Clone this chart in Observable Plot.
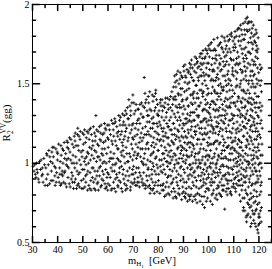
<!DOCTYPE html>
<html><head><meta charset="utf-8">
<script src="https://cdn.jsdelivr.net/npm/d3@7"></script>
<script src="https://cdn.jsdelivr.net/npm/@observablehq/plot@0.6"></script>
<style>body{margin:0;background:#fff}#chart svg{display:block}</style>
</head><body><div id="chart"></div>
<script>
const xTicks = [30,40,50,60,70,80,90,100,110,120];
const xMinor = [35,45,55,65,75,85,95,105,115,125];
const yTicks = [0.5,1,1.5,2];
const yMinor = [0.6,0.7,0.8,0.9,1.1,1.2,1.3,1.4,1.6,1.7,1.8,1.9];

// scanned points [m_H1 (GeV), R], first pass
const pts30 = [[30.2,.98],[30.6,.95],[31.1,.93],[31.6,1.00],[32.3,.90],[32.8,1.01],[33.2,.96],[33.7,.92],[34.2,.88],[34.5,1.03],[35.0,.86],[35.3,.97],[35.8,1.05],[36.1,.93],[36.5,1.08],[36.8,.87],[37.2,1.01],[37.5,.95],[37.9,1.10],[38.1,.89],[38.3,1.04],[38.7,.98],[39.0,.86],[39.3,1.09],[39.6,.94],[39.9,1.02]];
const pts40 = [[40.2,.91],[40.4,1.12],[40.8,.97],[41.1,.86],[41.4,1.05],[41.7,.93],[41.9,1.09],[42.1,1.00],[42.4,.88],[42.6,1.13],[42.9,.95],[43.2,1.06],[43.5,.85],[43.7,1.14],[43.9,.98],[44.1,.91],[44.3,1.09],[44.7,1.16],[45.0,.85],[45.2,1.02],[45.6,.94],[45.8,1.12],[45.9,.88],[46.1,1.05],[46.3,.84],[46.6,1.17],[46.8,.97],[47.1,.90],[47.3,1.11],[47.6,1.00],[47.8,.86],[47.9,1.18],[48.0,1.22],[48.2,.93],[48.4,1.08],[48.7,.85],[48.9,1.15],[49.2,.99],[49.4,.89],[49.7,1.04],[49.9,1.19]];
const pts50 = [[50.1,.84],[50.2,1.12],[50.5,.96],[50.7,1.21],[50.9,1.03],[51.2,.88],[51.4,1.16],[51.6,.93],[51.8,1.07],[51.9,.83],[52.1,1.19],[52.3,1.00],[52.4,.86],[52.7,1.10],[52.9,.94],[53.1,1.22],[53.3,.83],[53.6,1.05],[53.8,.91],[53.9,1.14],[54.1,.97],[54.2,1.23],[54.5,.84],[54.7,1.08],[54.9,.90],[55.1,1.17],[55.2,1.30],[55.4,1.01],[55.7,.87],[55.8,1.12],[55.9,.95],[56.1,1.20],[56.2,.83],[56.4,1.04],[56.7,.92],[56.8,1.15],[57.0,.98],[57.3,1.24],[57.4,.86],[57.7,1.09],[57.8,.95],[57.9,1.18],[58.1,.89],[58.2,1.13],[58.5,1.01],[58.6,1.25],[58.9,.84],[59.1,.96],[59.2,1.21],[59.5,1.06],[59.6,.91],[59.8,1.16],[59.9,.83]];
const pts60 = [[60.1,1.10],[60.3,.93],[60.4,1.24],[60.7,.86],[60.8,1.03],[61.0,1.18],[61.2,.97],[61.4,1.27],[61.6,.84],[61.8,1.12],[61.9,.99],[62.1,1.21],[62.2,.88],[62.4,1.06],[62.6,.95],[62.7,1.28],[62.9,1.14],[63.1,.82],[63.2,1.00],[63.5,1.23],[63.6,.91],[63.8,1.09],[63.9,1.17],[64.0,.85],[64.2,1.02],[64.3,1.30],[64.5,.94],[64.7,1.15],[64.8,1.24],[65.0,.88],[65.2,1.07],[65.4,.98],[65.5,1.20],[65.7,.82],[65.8,1.31],[65.9,1.11],[66.1,.96],[66.2,1.26],[66.4,1.04],[66.6,.87],[66.7,1.17],[66.9,1.33],[67.1,.92],[67.2,1.10],[67.4,1.22],[67.6,.84],[67.7,1.35],[67.8,1.01],[67.9,1.14],[68.0,.89],[68.2,1.28],[68.3,1.40],[68.5,1.06],[68.6,.97],[68.8,1.19],[69.0,.85],[69.1,1.33],[69.3,1.12],[69.5,.93],[69.6,1.24],[69.8,1.02],[69.9,1.43],[69.9,.87]];
const pts70 = [[70.1,1.15],[70.2,.98],[70.4,1.31],[70.5,.88],[70.7,1.07],[70.8,1.22],[71.0,.94],[71.2,1.37],[71.3,1.03],[71.5,.86],[71.6,1.18],[71.8,1.27],[71.9,.91],[71.9,1.10],[72.1,1.34],[72.2,.97],[72.4,1.13],[72.5,.85],[72.7,1.25],[72.9,1.04],[73.0,.92],[73.2,1.19],[73.3,1.38],[73.5,.88],[73.7,1.09],[73.8,1.29],[73.9,1.00],[73.9,.86],[74.0,1.16],[74.2,.94],[74.4,1.54],[74.5,1.35],[74.6,1.06],[74.8,.84],[74.9,1.23],[75.1,.99],[75.2,1.40],[75.4,1.12],[75.6,.89],[75.7,1.30],[75.8,1.02],[75.9,1.20],[75.9,.85],[76.1,1.09],[76.2,1.38],[76.4,.92],[76.5,1.26],[76.6,1.45],[76.8,1.01],[76.9,.84],[77.1,1.17],[77.2,1.33],[77.4,.96],[77.5,1.06],[77.7,1.22],[77.8,.88],[77.9,1.39],[77.9,1.13],[77.6,.83],[78.0,1.29],[78.1,.98],[78.3,1.42],[78.4,1.10],[78.6,.86],[78.7,1.20],[78.9,1.35],[79.0,1.46],[79.1,.93],[79.2,1.04],[79.4,1.25],[79.5,.82],[79.6,1.15],[79.7,1.37],[79.8,.97],[79.9,1.08],[79.9,1.30]];
const pts80 = [[80.1,.89],[80.2,1.18],[80.3,1.33],[80.5,1.02],[80.6,.81],[80.8,1.24],[80.9,1.40],[81.1,.95],[81.2,1.11],[81.4,1.29],[81.5,1.40],[81.6,.86],[81.7,1.06],[81.8,1.20],[81.9,.99],[81.9,1.36],[82.0,1.14],[82.1,.83],[82.3,1.27],[82.4,1.03],[82.5,.79],[82.7,1.38],[82.8,.93],[83.0,1.19],[83.1,1.08],[83.3,1.32],[83.4,.88],[83.6,1.41],[83.7,.98],[83.8,1.23],[83.9,1.12],[83.9,.81],[83.5,1.01],[84.0,1.34],[84.1,.92],[84.3,1.07],[84.4,1.40],[84.5,.80],[84.7,1.21],[84.8,1.00],[85.0,1.29],[85.1,.87],[85.3,1.14],[85.4,1.45],[85.6,.95],[85.7,1.37],[85.8,1.04],[85.9,.78],[85.9,1.25],[85.5,1.18],[84.6,1.11],[86.0,1.48],[86.1,.84],[86.2,1.12],[86.3,1.31],[86.4,.97],[86.6,1.22],[86.7,1.42],[86.8,.79],[86.9,1.05],[87.0,1.36],[87.1,.91],[87.3,1.17],[87.4,1.52],[87.5,1.00],[87.6,1.27],[87.7,.86],[87.8,1.58],[87.9,1.10],[87.9,1.44],[87.2,.78],[86.5,1.55],[88.0,.93],[88.1,1.20],[88.2,1.50],[88.3,1.03],[88.4,.80],[88.5,1.35],[88.6,1.14],[88.7,1.57],[88.8,.89],[88.9,1.27],[89.0,1.43],[89.1,.98],[89.2,1.08],[89.3,.77],[89.4,1.39],[89.5,1.22],[89.6,1.54],[89.7,.85],[89.8,1.31],[89.9,1.01],[89.9,1.16],[89.5,1.47]];
const pts90 = [[90.0,1.61],[90.1,.82],[90.2,1.24],[90.3,1.09],[90.4,1.45],[90.5,.94],[90.6,1.34],[90.7,1.55],[90.8,.78],[90.9,1.17],[91.0,1.02],[91.1,1.40],[91.2,.88],[91.3,1.28],[91.4,1.59],[91.5,1.12],[91.6,.97],[91.7,1.50],[91.8,1.21],[91.9,.80],[91.9,1.36],[91.3,1.05],[90.6,1.62],[91.6,.76],[92.0,1.19],[92.1,.90],[92.2,1.47],[92.3,1.04],[92.4,1.63],[92.5,.79],[92.6,1.30],[92.7,1.13],[92.8,1.56],[92.9,.96],[93.0,1.38],[93.1,.84],[93.2,1.65],[93.3,1.23],[93.4,1.07],[93.5,1.43],[93.6,.76],[93.7,1.32],[93.8,1.00],[93.9,1.52],[93.9,1.16],[93.4,.92],[92.7,1.60],[93.1,1.26],[92.4,.99],[94.0,1.41],[94.1,.86],[94.2,1.09],[94.3,1.58],[94.4,1.27],[94.5,.95],[94.6,1.67],[94.7,.77],[94.8,1.18],[94.9,1.49],[95.0,1.02],[95.1,1.34],[95.2,.89],[95.3,1.63],[95.4,1.12],[95.5,1.44],[95.6,.81],[95.7,1.24],[95.8,1.54],[95.9,.98],[95.9,1.36],[95.4,.75],[94.8,1.06],[95.2,1.66],[94.4,1.20],[96.0,.92],[96.1,1.30],[96.2,1.61],[96.3,1.07],[96.4,.80],[96.5,1.46],[96.6,1.19],[96.7,1.69],[96.8,.97],[96.9,1.38],[97.0,1.12],[97.1,.85],[97.2,1.55],[97.3,1.26],[97.4,1.02],[97.5,1.66],[97.6,.74],[97.7,1.42],[97.8,1.71],[97.8,1.15],[97.9,.90],[97.9,1.34],[97.5,1.50],[96.6,.76],[97.0,1.59],[96.3,1.22],[97.4,.94],[98.0,1.09],[98.1,1.63],[98.2,.79],[98.3,1.28],[98.4,.72],[98.5,1.52],[98.6,1.00],[98.7,1.40],[98.8,1.72],[98.9,.87],[99.0,1.18],[99.1,1.60],[99.2,.95],[99.3,1.33],[99.4,1.05],[99.5,1.69],[99.6,.78],[99.7,1.47],[99.8,1.24],[99.9,.91],[99.9,1.74],[99.5,1.13],[99.0,1.56],[98.6,1.22],[98.3,.93],[99.3,.84],[98.9,1.37],[99.7,1.02]];
const pts100 = [[100.0,1.44],[100.1,.83],[100.2,1.16],[100.3,1.67],[100.4,.98],[100.5,1.31],[100.6,1.75],[100.7,.76],[100.8,1.08],[100.9,1.52],[101.0,1.24],[101.1,.90],[101.2,1.62],[101.3,1.39],[101.4,1.03],[101.5,.74],[101.6,1.48],[101.7,1.19],[101.8,1.71],[101.9,.95],[101.9,1.34],[101.5,1.58],[101.0,.86],[100.5,1.12],[100.2,1.55],[101.2,1.27],[100.8,1.00],[101.7,.81],[102.0,1.21],[102.1,1.78],[102.2,.88],[102.3,1.46],[102.4,1.06],[102.5,1.63],[102.6,.78],[102.7,1.33],[102.8,1.71],[102.9,1.14],[103.0,.97],[103.1,1.54],[103.2,1.26],[103.3,.84],[103.4,1.40],[103.5,1.79],[103.6,1.02],[103.7,1.60],[103.8,.92],[103.9,1.18],[103.9,1.49],[103.4,.77],[102.8,1.37],[103.1,1.09],[102.5,.94],[103.7,1.29],[102.2,1.58],[103.0,1.68],[104.0,.85],[104.1,1.42],[104.2,1.12],[104.3,1.75],[104.4,.96],[104.5,1.30],[104.6,1.58],[104.7,.80],[104.8,1.22],[104.9,1.66],[105.0,1.03],[105.1,1.48],[105.2,.90],[105.3,1.80],[105.4,1.17],[105.5,1.37],[105.6,.99],[105.7,1.55],[105.8,1.26],[105.9,.83],[105.9,1.70],[105.4,1.08],[104.8,1.44],[105.1,.79],[104.3,1.20],[105.7,1.34],[104.5,1.62],[105.2,1.73],[106.0,1.15],[106.1,1.61],[106.2,.92],[106.3,1.39],[106.4,.71],[106.5,1.77],[106.6,1.04],[106.7,1.28],[106.8,1.52],[106.9,.82],[107.0,1.68],[107.1,1.20],[107.2,.98],[107.3,1.45],[107.4,1.80],[107.5,1.10],[107.6,.87],[107.7,1.35],[107.8,1.58],[107.9,1.02],[107.9,1.24],[107.4,.80],[106.8,1.72],[107.1,1.49],[106.3,1.08],[107.7,.94],[106.6,1.33],[107.2,1.64],[108.0,1.53],[108.1,.89],[108.2,1.27],[108.3,1.78],[108.4,1.06],[108.5,1.41],[108.6,.81],[108.7,1.66],[108.8,1.16],[108.9,.97],[109.0,1.49],[109.1,1.82],[109.2,1.31],[109.3,.85],[109.4,1.10],[109.5,1.60],[109.6,1.22],[109.7,.93],[109.8,1.73],[109.9,1.38],[109.9,1.02],[109.4,1.56],[108.8,1.70],[109.1,.80],[108.4,1.20],[109.6,1.46],[108.6,1.35],[109.3,1.13]];
const pts110 = [[110.0,1.25],[110.1,1.71],[110.2,.90],[110.3,1.44],[110.4,1.08],[110.5,1.83],[110.6,.84],[110.7,1.36],[110.8,1.58],[110.9,1.00],[111.0,1.19],[111.1,1.66],[111.2,.94],[111.3,1.49],[111.4,1.84],[111.5,1.12],[111.6,1.30],[111.7,.86],[111.8,1.62],[111.9,1.04],[111.9,1.77],[111.4,1.39],[110.8,.82],[111.1,1.53],[110.4,1.75],[111.6,1.22],[110.6,1.16],[111.3,.98],[112.0,1.41],[112.1,.95],[112.2,1.80],[112.3,1.14],[112.4,1.63],[112.5,.86],[112.6,1.29],[112.7,1.87],[112.8,1.05],[112.9,1.52],[113.0,1.21],[113.1,.90],[113.2,1.72],[113.3,1.35],[113.4,1.00],[113.5,1.58],[113.6,.78],[113.7,1.88],[113.8,1.17],[113.9,1.46],[113.9,.72],[113.5,1.26],[112.9,1.77],[113.2,.83],[112.4,1.10],[113.8,1.66],[112.6,1.50],[113.1,1.38],[112.2,.99],[113.6,1.08],[112.8,1.31],[114.0,1.53],[114.1,.88],[114.2,1.23],[114.3,1.84],[114.4,.70],[114.5,1.40],[114.6,1.06],[114.7,1.68],[114.8,.95],[114.9,1.91],[115.0,1.31],[115.1,.63],[115.2,1.15],[115.3,1.60],[115.4,1.92],[115.5,.80],[115.6,1.46],[115.7,1.01],[115.8,1.76],[115.9,1.27],[115.9,.74],[115.6,1.88],[115.2,.92],[114.8,1.55],[114.5,1.81],[115.0,1.10],[114.3,1.35],[115.7,1.63],[114.6,.83],[115.4,1.19],[114.1,1.72],[115.8,.99],[114.9,1.44],[115.3,.67],[114.7,1.28],[115.5,1.83],[116.0,1.12],[116.1,1.70],[116.2,.77],[116.3,1.44],[116.4,1.89],[116.5,.97],[116.6,1.30],[116.7,.60],[116.8,1.58],[116.9,1.05],[117.0,1.82],[117.1,.86],[117.2,1.37],[117.3,1.65],[117.4,.70],[117.5,1.20],[117.6,1.50],[117.7,.93],[117.8,1.87],[117.9,1.26],[117.9,.64],[117.6,1.75],[117.2,1.02],[116.8,.81],[116.5,1.62],[117.0,1.41],[116.3,1.17],[117.7,1.08],[116.6,1.79],[117.4,1.33],[116.1,.90],[117.8,1.55],[116.9,.73],[117.3,1.85],[116.7,1.23],[117.5,.99],[118.0,1.48],[118.1,.83],[118.2,1.77],[118.3,1.15],[118.4,.62],[118.5,1.35],[118.6,1.62],[118.7,.95],[118.8,1.84],[118.9,1.22],[119.0,.71],[119.1,1.53],[119.2,1.04],[119.3,1.70],[119.4,.58],[119.5,1.30],[119.6,.88],[119.7,1.79],[119.8,1.42],[119.9,.66],[119.9,1.12],[119.7,.56],[119.4,1.60],[119.0,1.38],[118.6,.76],[118.3,1.56],[119.2,.79],[118.9,1.07],[118.1,1.28],[119.6,1.20],[118.5,1.00],[119.3,.92],[118.7,1.67],[119.8,.99],[118.4,1.44],[119.1,1.74]];
const pts120 = [[120.0,1.52],[120.1,.75],[120.2,1.18],[120.3,.66],[120.4,1.38],[120.5,.92],[120.6,1.59],[120.7,1.05],[120.8,.82],[120.9,1.27],[121.0,1.45],[121.1,.97],[121.2,1.12],[120.6,.70],[120.3,1.00],[121.0,.88],[120.8,1.33],[120.2,.62],[121.3,1.22],[120.5,1.49]];

// second pass (points between the first ones)
const more30 = [[30.9,.99],[31.4,.91],[31.8,.96],[32.0,.94],[32.6,.88],[33.4,1.02],[33.9,.97],[34.0,.93],[34.8,.99],[35.5,.90],[35.6,1.06],[36.3,.99],[36.9,1.04],[37.4,.89],[37.7,1.07],[36.0,.86],[38.5,1.10],[38.9,.92],[39.4,.88],[39.8,1.07],[38.0,1.00],[39.2,.97]];
const more40 = [[40.0,1.06],[40.6,.88],[41.0,1.01],[41.3,1.11],[41.8,.95],[40.9,.93],[41.5,.87],[42.0,.92],[42.3,1.08],[42.8,1.03],[43.0,.87],[43.4,.99],[43.8,1.10],[42.7,.94],[43.6,1.02],[44.0,1.13],[44.4,.97],[44.6,.87],[44.9,1.07],[45.3,1.15],[45.4,.90],[45.7,1.00],[44.2,1.03],[46.0,.92],[46.4,1.10],[46.7,.88],[46.9,1.14],[47.2,1.04],[47.5,.84],[47.7,.95],[47.0,1.19],[46.5,1.00],[48.1,1.11],[48.3,.87],[48.6,1.02],[48.8,.94],[49.0,1.20],[49.3,1.07],[49.6,.84],[49.8,.96],[48.5,1.17]];
const more50 = [[50.0,1.08],[50.3,.90],[50.4,1.18],[50.8,.85],[51.0,1.13],[51.3,.99],[51.5,1.04],[51.7,1.20],[51.1,.92],[50.6,1.01],[52.0,.95],[52.2,1.06],[52.5,1.15],[52.8,.84],[53.0,1.02],[53.2,.89],[53.4,1.18],[53.7,.97],[53.5,1.09],[52.6,1.21],[54.0,1.11],[54.3,.88],[54.4,1.03],[54.6,1.19],[54.8,.95],[55.0,.83],[55.3,1.07],[55.5,1.21],[55.6,.92],[55.9,1.04],[54.9,1.14],[56.0,.88],[56.3,1.11],[56.5,.97],[56.6,1.23],[56.9,1.02],[57.1,.85],[57.2,1.14],[57.5,1.06],[57.6,.90],[57.9,1.00],[57.1,1.19],[58.0,1.05],[58.3,.93],[58.4,1.19],[58.7,1.09],[58.8,.87],[59.0,1.14],[59.3,1.00],[59.4,.85],[59.7,1.24],[59.8,.94],[58.9,1.22]];
const more60 = [[60.0,.87],[60.2,1.15],[60.5,1.01],[60.6,1.21],[60.9,.91],[61.1,1.07],[61.3,.83],[61.5,1.14],[61.7,.95],[61.9,1.25],[61.3,1.03],[62.0,1.03],[62.3,1.17],[62.5,.84],[62.8,.99],[63.0,1.26],[63.3,1.11],[63.4,.93],[63.7,1.03],[63.9,.86],[62.4,1.25],[63.6,1.19],[62.9,.90],[64.1,1.09],[64.4,.89],[64.6,1.27],[64.9,1.01],[65.1,1.18],[65.3,.84],[65.6,1.13],[65.9,.93],[64.2,1.20],[65.0,1.29],[64.6,.97],[65.5,1.05],[65.9,1.24],[66.0,1.08],[66.3,.90],[66.5,1.30],[66.8,1.00],[67.0,1.20],[67.3,.86],[67.5,1.06],[67.7,.95],[67.9,1.28],[66.3,1.15],[67.0,.83],[67.4,1.31],[66.8,1.24],[68.1,1.16],[68.4,.92],[68.7,1.36],[68.9,1.04],[69.2,.88],[69.4,1.21],[69.7,1.09],[69.8,.96],[68.4,1.24],[69.0,1.30],[68.9,.83],[69.5,1.38],[68.1,1.01],[69.7,1.16]];
const more70 = [[70.0,1.25],[70.3,1.05],[70.6,.90],[70.9,1.33],[71.1,1.12],[71.4,.97],[71.7,1.05],[71.9,1.34],[70.3,1.38],[71.0,.86],[71.4,1.25],[70.7,1.17],[71.7,.88],[70.0,.93],[72.0,1.06],[72.3,1.28],[72.6,.94],[72.8,1.16],[73.1,1.31],[73.4,1.01],[73.6,.90],[73.8,1.22],[72.3,.88],[73.0,1.09],[72.7,1.37],[73.5,1.14],[73.9,1.36],[72.0,1.21],[74.1,1.29],[74.3,.87],[74.6,1.18],[74.7,1.44],[75.0,1.09],[75.3,.92],[75.5,1.33],[75.8,1.13],[74.3,1.03],[75.0,.86],[75.6,1.26],[74.9,1.38],[75.3,1.18],[75.9,.96],[74.1,.99],[76.0,.97],[76.3,1.18],[76.5,.86],[76.7,1.34],[77.0,1.05],[77.2,.90],[77.4,1.28],[77.6,1.43],[77.8,1.00],[76.2,1.30],[76.9,1.22],[77.3,1.11],[76.7,.81],[77.9,1.25],[76.0,1.42],[77.5,.93],[78.0,.84],[78.2,1.16],[78.5,1.33],[78.8,1.03],[79.0,.88],[79.3,1.40],[79.5,1.19],[79.8,1.23],[78.3,1.25],[78.6,.95],[79.1,1.12],[79.4,.99],[79.9,.86],[78.9,1.44],[78.1,1.07],[79.6,1.31],[78.4,.81]];
const more80 = [[80.0,1.08],[80.2,.93],[80.4,1.26],[80.7,1.38],[80.9,.86],[81.0,1.15],[81.3,1.02],[81.5,.83],[81.7,1.33],[81.9,1.17],[80.5,1.14],[81.1,1.36],[80.1,1.30],[81.6,.94],[80.8,.98],[81.3,1.22],[82.0,.87],[82.2,1.22],[82.5,1.35],[82.6,1.10],[82.9,.85],[83.1,1.29],[83.2,1.01],[83.5,1.16],[83.7,.91],[83.9,1.37],[82.3,.96],[82.9,1.41],[83.4,1.25],[83.8,1.05],[82.2,1.06],[83.1,.80],[82.7,1.17],[84.0,1.16],[84.2,.85],[84.4,1.27],[84.6,.96],[84.9,1.42],[85.1,1.08],[85.3,.82],[85.5,1.33],[85.8,1.13],[84.3,1.00],[84.8,1.35],[85.2,1.21],[85.6,.88],[85.9,1.41],[84.1,1.23],[85.0,.92],[84.7,1.04],[85.4,1.02],[86.0,.90],[86.2,1.40],[86.4,1.18],[86.6,.82],[86.8,1.29],[87.0,1.48],[87.1,1.02],[87.3,.95],[87.5,1.35],[87.7,1.21],[87.9,.81],[86.3,1.06],[86.9,1.15],[87.2,1.56],[87.6,1.09],[86.1,1.25],[87.4,.88],[86.7,1.51],[87.8,1.32],[86.5,.99],[87.0,1.40],[88.0,1.43],[88.1,1.00],[88.3,.84],[88.4,1.29],[88.6,1.53],[88.8,1.06],[89.0,.92],[89.1,1.35],[89.3,1.17],[89.5,.81],[89.7,1.40],[89.9,1.25],[88.2,1.16],[88.7,.97],[89.2,1.55],[89.4,1.03],[89.8,.90],[88.5,1.24],[89.0,1.11],[88.9,1.47],[89.6,1.10],[88.3,1.37]];
const more90 = [[90.0,1.05],[90.1,1.36],[90.3,.88],[90.4,1.20],[90.6,1.51],[90.8,1.00],[91.0,1.25],[91.1,.84],[91.3,1.46],[91.4,1.16],[91.6,1.31],[91.8,.92],[91.9,1.57],[90.2,1.58],[90.5,1.13],[90.9,.81],[91.2,1.08],[91.5,1.41],[91.7,1.04],[90.7,1.28],[91.0,1.54],[90.1,.96],[91.8,1.26],[90.4,.79],[92.0,1.36],[92.1,1.58],[92.2,.85],[92.4,1.27],[92.5,1.10],[92.6,.93],[92.8,1.43],[92.9,1.21],[93.0,.80],[93.2,1.05],[93.3,1.54],[93.5,1.12],[93.6,1.37],[93.7,.88],[93.9,1.27],[92.3,1.51],[92.7,.99],[93.0,1.62],[93.4,.97],[93.8,1.44],[92.1,1.13],[93.6,1.60],[92.9,1.32],[93.1,1.17],[92.5,.77],[94.0,1.11],[94.1,1.52],[94.2,.79],[94.3,1.32],[94.5,1.62],[94.6,.91],[94.7,1.23],[94.9,1.00],[95.0,1.57],[95.1,.85],[95.3,1.41],[95.5,.97],[95.6,1.15],[95.7,1.60],[95.9,1.29],[94.2,1.45],[94.6,1.38],[95.0,1.20],[95.4,1.30],[95.8,1.06],[94.9,.80],[95.2,1.49],[94.1,.94],[95.6,1.64],[94.4,1.04],[96.0,1.52],[96.1,1.02],[96.2,.84],[96.4,1.36],[96.5,1.67],[96.7,1.09],[96.8,1.26],[97.0,.92],[97.1,1.46],[97.3,.79],[97.4,1.62],[97.5,1.18],[97.6,1.33],[97.8,.86],[97.9,1.57],[96.2,1.15],[96.6,1.55],[96.9,1.00],[97.2,1.22],[97.7,1.04],[96.0,1.41],[96.8,.89],[97.3,1.69],[97.9,1.27],[96.4,1.00],[97.6,1.44],[96.9,1.63],[98.0,1.45],[98.1,.88],[98.2,1.15],[98.4,1.66],[98.5,1.34],[98.7,.82],[98.8,1.04],[99.0,1.49],[99.1,.76],[99.2,1.26],[99.4,1.63],[99.5,.97],[99.6,1.38],[99.8,1.11],[99.9,1.55],[98.2,1.55],[98.6,.99],[98.9,1.28],[99.3,1.71],[99.6,1.19],[98.0,.96],[99.0,1.08],[99.8,.84],[98.4,1.19],[99.4,1.43],[98.7,1.67],[99.2,.90],[99.9,1.32]];
const more100 = [[100.0,.93],[100.1,1.27],[100.3,1.04],[100.4,1.59],[100.6,.88],[100.7,1.37],[100.9,1.71],[101.0,1.12],[101.1,1.44],[101.3,.80],[101.4,1.23],[101.6,1.66],[101.7,1.00],[101.8,1.39],[101.9,1.12],[100.2,1.72],[100.6,1.20],[100.9,.97],[101.3,1.53],[101.6,.88],[100.0,1.63],[100.4,1.35],[101.1,1.76],[101.8,1.59],[100.8,1.29],[101.4,.93],[100.1,1.05],[101.9,1.22],[102.0,.83],[102.1,1.38],[102.3,1.13],[102.4,1.72],[102.5,1.29],[102.7,.91],[102.8,1.52],[103.0,1.23],[103.1,.80],[103.2,1.65],[103.4,1.14],[103.5,.94],[103.6,1.44],[103.8,1.74],[103.9,1.05],[102.2,1.04],[102.6,1.66],[103.0,1.44],[103.3,1.34],[103.7,.86],[102.0,1.52],[102.9,.99],[103.5,1.56],[103.9,1.33],[102.4,1.45],[103.2,1.00],[102.7,1.19],[103.6,1.23],[104.0,1.53],[104.1,1.04],[104.2,1.68],[104.4,1.35],[104.5,.88],[104.6,1.13],[104.8,1.76],[104.9,.98],[105.0,1.27],[105.2,1.59],[105.3,.86],[105.5,1.46],[105.6,1.21],[105.8,1.64],[105.9,1.11],[104.2,.81],[104.7,1.50],[105.1,1.06],[105.4,1.72],[105.7,.92],[104.0,1.25],[104.9,1.40],[105.5,.83],[105.9,1.46],[104.4,1.63],[105.3,1.30],[104.6,.94],[105.8,1.03],[106.0,1.48],[106.1,.86],[106.2,1.25],[106.4,1.67],[106.5,1.13],[106.7,.93],[106.8,1.41],[107.0,1.03],[107.1,1.74],[107.3,1.31],[107.4,.89],[107.5,1.56],[107.7,1.16],[107.8,1.77],[107.9,.97],[106.2,1.79],[106.5,1.55],[106.9,1.22],[107.2,1.10],[107.6,1.40],[106.0,.98],[106.7,1.62],[107.3,.84],[107.9,1.50],[106.4,1.30],[107.0,1.36],[106.9,.90],[107.6,1.70],[108.0,1.11],[108.1,1.62],[108.2,.93],[108.4,1.46],[108.5,1.81],[108.7,1.02],[108.8,1.27],[109.0,.89],[109.1,1.65],[109.2,1.19],[109.4,1.42],[109.5,.96],[109.7,1.77],[109.8,1.30],[109.9,.87],[108.2,1.72],[108.6,1.52],[108.9,1.38],[109.3,1.06],[109.6,1.58],[108.0,.84],[108.8,1.09],[109.5,1.28],[109.9,1.65],[108.3,1.36],[109.2,1.80],[108.7,.82],[109.7,1.14]];
const more110 = [[110.0,1.55],[110.1,.98],[110.2,1.30],[110.3,1.79],[110.5,1.14],[110.6,1.62],[110.7,.91],[110.9,1.48],[111.0,1.80],[111.2,1.07],[111.3,1.26],[111.5,1.70],[111.6,.92],[111.8,1.42],[111.9,1.15],[110.2,1.09],[110.7,1.73],[111.0,.87],[111.4,1.57],[111.7,1.34],[110.0,.85],[110.9,1.21],[111.5,1.01],[111.8,1.85],[110.4,1.38],[111.2,1.63],[110.8,1.03],[111.9,.89],[112.0,1.67],[112.1,1.20],[112.2,.89],[112.4,1.48],[112.5,1.74],[112.6,1.02],[112.8,1.39],[112.9,.93],[113.0,1.84],[113.1,1.13],[113.3,1.57],[113.4,.86],[113.5,1.30],[113.7,1.04],[113.8,1.78],[112.0,1.06],[112.3,1.33],[112.7,1.59],[113.0,.97],[113.4,1.69],[113.9,1.23],[112.1,1.85],[112.5,1.24],[112.9,1.10],[113.2,1.46],[113.6,1.41],[113.9,.92],[112.3,.80],[113.3,1.81],[112.7,.76],[113.7,.70],[114.0,1.17],[114.1,1.45],[114.2,.78],[114.3,1.61],[114.4,1.02],[114.5,1.89],[114.6,1.36],[114.7,.88],[114.8,1.73],[114.9,1.11],[115.0,1.52],[115.1,.97],[115.2,1.84],[115.3,1.25],[115.4,.75],[115.5,1.39],[115.6,1.05],[115.7,1.70],[115.8,.85],[115.9,1.50],[114.2,1.78],[114.5,.91],[114.8,1.22],[115.1,1.66],[115.4,1.33],[115.7,.68],[115.9,1.89],[114.0,.96],[114.4,1.29],[115.0,.81],[115.5,1.14],[114.7,1.58],[115.2,1.01],[115.8,1.38],[114.9,.66],[114.1,1.64],[116.0,1.52],[116.1,1.27],[116.2,1.84],[116.3,.88],[116.4,1.09],[116.5,1.38],[116.6,.66],[116.7,1.69],[116.8,1.16],[116.9,1.48],[117.0,.78],[117.1,1.89],[117.2,1.24],[117.3,.95],[117.4,1.58],[117.5,1.72],[117.6,1.12],[117.7,.68],[117.8,1.40],[117.9,1.03],[116.2,1.00],[116.6,1.55],[117.0,1.14],[117.3,1.29],[117.7,1.80],[116.4,.72],[116.9,1.76],[117.5,.87],[117.9,1.62],[116.1,1.41],[116.7,.92],[117.2,1.52],[117.8,.79],[116.5,1.21],[117.1,.62],[116.8,1.34],[118.0,1.05],[118.1,1.64],[118.2,.68],[118.3,1.38],[118.4,1.81],[118.5,.87],[118.6,1.20],[118.7,1.48],[118.8,.60],[118.9,1.71],[119.0,1.15],[119.1,.82],[119.2,1.42],[119.3,1.25],[119.4,.74],[119.5,1.66],[119.6,1.03],[119.7,1.35],[119.8,.61],[119.9,1.57],[118.2,1.24],[118.6,1.76],[119.0,.95],[119.3,1.50],[119.7,.90],[118.0,.75],[118.8,1.32],[119.5,1.10],[119.9,1.29],[118.4,1.10],[119.1,1.82],[118.7,.70],[119.6,1.72],[118.9,.88],[119.4,1.17],[118.3,.97]];
const more120 = [[120.0,1.08],[120.1,1.35],[120.3,.80],[120.4,1.62],[120.6,1.16],[120.7,.86],[120.9,1.52],[121.0,.72],[121.2,1.36],[120.2,.95],[120.5,1.25],[120.8,1.00],[121.1,1.60],[120.0,.68],[121.3,1.05],[120.9,.63]];

const points = [...pts30, ...pts40, ...pts50, ...pts60, ...pts70, ...pts80, ...pts90, ...pts100, ...pts110, ...pts120,
  ...more30, ...more40, ...more50, ...more60, ...more70, ...more80, ...more90, ...more100, ...more110, ...more120]
  .map(([m, r]) => ({m, r}));

const tickShape = {draw(ctx, l) { ctx.moveTo(0, 0); ctx.lineTo(0, -l); }};
const serif = "'Liberation Serif', 'Times New Roman', serif";
const ink = "#000";

const plot = Plot.plot({
  width: 272, height: 269,
  marginLeft: 32, marginRight: 1, marginTop: 4, marginBottom: 27,
  style: {fontFamily: serif, fontSize: "10px", color: ink, background: "#fff", overflow: "visible"},
  x: {domain: [30, 125]},
  y: {domain: [0.5, 2]},
  marks: [
    Plot.dot(points, {x: "m", y: "r", symbol: "plus", r: 1.1, stroke: "#111", strokeWidth: 0.9}),
    // inward ticks
    Plot.vector(xTicks, {x: d => d, frameAnchor: "bottom", rotate: 0, length: 6, anchor: "start", shape: tickShape, stroke: ink}),
    Plot.vector(xMinor, {x: d => d, frameAnchor: "bottom", rotate: 0, length: 3, anchor: "start", shape: tickShape, stroke: ink}),
    Plot.vector(xTicks, {x: d => d, frameAnchor: "top", rotate: 180, length: 6, anchor: "start", shape: tickShape, stroke: ink}),
    Plot.vector(xMinor, {x: d => d, frameAnchor: "top", rotate: 180, length: 3, anchor: "start", shape: tickShape, stroke: ink}),
    Plot.vector(yTicks, {y: d => d, frameAnchor: "left", rotate: 90, length: 7, anchor: "start", shape: tickShape, stroke: ink}),
    Plot.vector(yMinor, {y: d => d, frameAnchor: "left", rotate: 90, length: 3, anchor: "start", shape: tickShape, stroke: ink}),
    Plot.vector(yTicks, {y: d => d, frameAnchor: "right", rotate: -90, length: 7, anchor: "start", shape: tickShape, stroke: ink}),
    Plot.vector(yMinor, {y: d => d, frameAnchor: "right", rotate: -90, length: 3, anchor: "start", shape: tickShape, stroke: ink}),
    Plot.axisX({ticks: xTicks, tickSize: 0, tickPadding: 3, label: null, tickFormat: d => String(d)}),
    Plot.axisY({ticks: yTicks, tickSize: 0, tickPadding: 3, label: null, tickFormat: d => String(d)}),
    Plot.frame({stroke: ink, strokeWidth: 1})
  ]
});

document.getElementById("chart").appendChild(plot);

// axis titles with sub/superscripts
const svg = d3.select(plot);
const xt = svg.append("text")
  .attr("x", 152).attr("y", 263.5)
  .attr("text-anchor", "middle")
  .attr("font-family", serif).attr("font-size", 10.5).attr("fill", ink);
xt.append("tspan").text("m");
xt.append("tspan").attr("font-size", 7).attr("dy", 2.5).text("H");
xt.append("tspan").attr("font-size", 5).attr("dy", 1.5).text("1");
xt.append("tspan").attr("dy", -4).text("\u2002[GeV]");

const yt = svg.append("text")
  .attr("transform", "translate(10,123) rotate(-90)")
  .attr("text-anchor", "middle")
  .attr("font-family", serif).attr("font-size", 11).attr("fill", ink);
yt.append("tspan").text("R");
yt.append("tspan").attr("font-size", 7.5).attr("dy", 2.5).text("2");
yt.append("tspan").attr("font-size", 7.5).attr("dy", -7).attr("dx", -3.5).text("VV");
yt.append("tspan").attr("dy", 4.5).text("(gg)");
</script>
</body></html>
